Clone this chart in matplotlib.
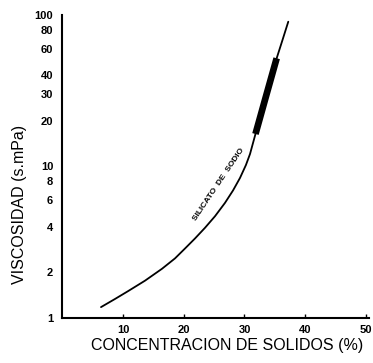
import matplotlib
matplotlib.use("Agg")
import matplotlib.pyplot as plt
from matplotlib.ticker import FixedLocator, NullLocator

# Viscosity of sodium silicate solution vs solids concentration
conc = [6.38, 8.68, 10.82, 13.62, 16.42, 18.56, 20.21, 21.85, 23.5, 25.15,
        26.79, 28.11, 29.26, 30.24, 30.91, 31.81, 33.46, 35.30, 36.26, 37.21]
visc = [1.18, 1.335, 1.503, 1.763, 2.113, 2.474, 2.876, 3.348, 3.939, 4.698,
        5.752, 6.944, 8.40, 10.23, 12.09, 16.39, 28.3, 51.8, 68.4, 90.3]

# Commercial range drawn as a heavy band on the curve
band_conc = [31.81, 33.46, 35.30]
band_visc = [16.39, 28.3, 51.8]

x_ticks = [10, 20, 30, 40, 50]
y_ticks = [1, 2, 4, 6, 8, 10, 20, 30, 40, 60, 80, 100]

plt.rcParams['font.family'] = ['Liberation Sans', 'DejaVu Sans']

fig = plt.figure(figsize=(3.73, 3.63), dpi=100)
ax = fig.add_axes([62.25 / 373, 1 - 318 / 363, (369 - 62.25) / 373, (318 - 15) / 363])

ax.plot(conc, visc, color='black', lw=1.3, solid_capstyle='round',
        solid_joinstyle='round')
ax.plot(band_conc, band_visc, color='black', lw=4.8, solid_capstyle='butt')

ax.set_yscale('log')
ax.set_xlim(0, 50.5)
ax.set_ylim(1, 100)

ax.xaxis.set_major_locator(FixedLocator(x_ticks))
ax.set_xticklabels([str(v) for v in x_ticks], fontsize=8, fontweight='bold')
ax.yaxis.set_major_locator(FixedLocator(y_ticks))
ax.yaxis.set_minor_locator(NullLocator())
ax.set_yticklabels([str(v) for v in y_ticks], fontsize=8, fontweight='bold')

ax.tick_params(axis='x', direction='in', length=3, width=1, pad=5)
ax.tick_params(axis='y', length=0, pad=6.5)

for side in ('top', 'right'):
    ax.spines[side].set_visible(False)
for side in ('left', 'bottom'):
    ax.spines[side].set_linewidth(1.5)

ax.set_xlabel('CONCENTRACION DE SOLIDOS (%)', fontsize=11.5)
ax.set_ylabel('VISCOSIDAD (s.mPa)', fontsize=11.5)
ax.xaxis.set_label_coords(0.539, -0.066)
ax.yaxis.set_label_coords(-0.115, 0.375)

ax.text(25.8, 7.6, 'SILICATO  DE  SODIO', rotation=56, fontsize=6,
        fontweight='bold', ha='center', va='center', rotation_mode='anchor')

fig.savefig('out.png', dpi=100, facecolor='white')
